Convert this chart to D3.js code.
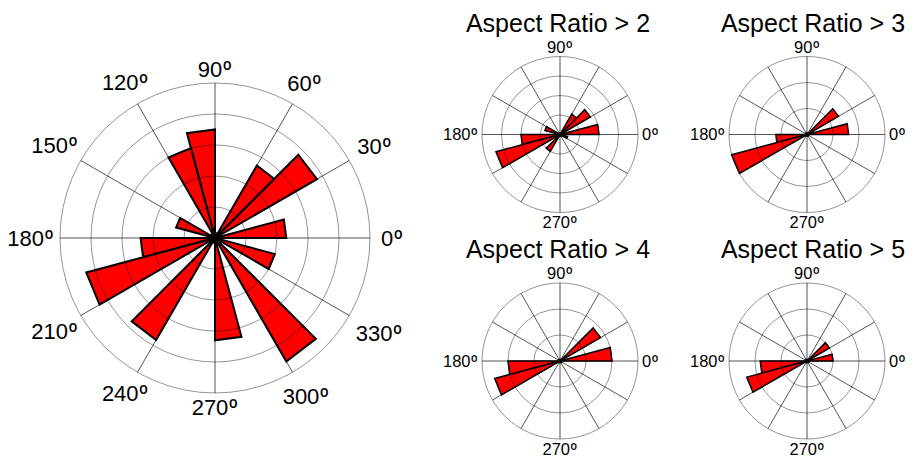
<!DOCTYPE html>
<html>
<head>
<meta charset="utf-8">
<script src="https://cdn.jsdelivr.net/npm/d3@7"></script>
<style>
  body { margin: 0; background: #fff; }
  svg { display: block; font-family: "Liberation Sans", Arial, sans-serif; }
  .deg { font-family: Roboto, "Liberation Sans", sans-serif; }
</style>
</head>
<body>
<svg id="chart" width="916" height="458"></svg>
<script>
// bin start angles (deg, counter-clockwise from east), 15 deg wide
const binStarts = [0, 15, 30, 45, 60, 75, 90, 105, 120, 135, 150, 165,
                   180, 195, 210, 225, 240, 255, 270, 285, 300, 315, 330, 345];
const binWidth = 15;

// counts per bin
const allCounts = [23, 0, 38, 27, 0, 0, 35, 30, 0, 0, 13, 0,
                   24, 43, 0, 38, 0, 0, 33, 0, 46, 0, 20, 0];
const ar2Counts = [10, 0, 9, 6, 0, 0, 0, 0, 0, 0, 4, 0,
                   10, 17, 0, 5, 0, 0, 0, 0, 0, 0, 2, 0];
const ar3Counts = [8, 0, 7, 0, 0, 0, 0, 0, 0, 0, 0, 0,
                   6, 15, 0, 0, 0, 0, 0, 0, 0, 0, 0, 0];
const ar4Counts = [10, 0, 9, 0, 0, 0, 0, 0, 0, 0, 0, 0,
                   10, 13, 0, 0, 0, 0, 0, 0, 0, 0, 0, 0];
const ar5Counts = [5, 0, 5, 0, 0, 0, 0, 0, 0, 0, 0, 0,
                   9, 12, 0, 0, 0, 0, 0, 0, 0, 0, 0, 0];

// grid
const spokeAngles = [0, 30, 60, 90, 120, 150, 180, 210, 240, 270, 300, 330];
const smallLabelAngles = [0, 90, 180, 270];
const mainRings = [10, 20, 30, 40, 50];
const ar2Rings = [5, 10, 15, 20];
const smallRings = [5, 10, 15];
const titles = ["Aspect Ratio > 2", "Aspect Ratio > 3", "Aspect Ratio > 4", "Aspect Ratio > 5"];

const svg = d3.select("#chart");
const toRad = d3.scaleLinear().domain([0, 360]).range([0, 2 * Math.PI]);

function drawRose(cx, cy, R, counts, rings, labelAngles, opt) {
  const g = svg.append("g").attr("transform", `translate(${cx},${cy})`);
  const r = d3.scaleLinear().domain([0, d3.max(rings)]).range([0, R]);

  // spokes under the bars
  g.selectAll(".spoke").data(spokeAngles).join("line")
    .attr("x1", 0).attr("y1", 0)
    .attr("x2", d => R * Math.cos(toRad(d)))
    .attr("y2", d => -R * Math.sin(toRad(d)))
    .attr("stroke", "#555").attr("stroke-width", 1);

  // wedges (straight-topped, like matlab rose)
  const wedge = d3.lineRadial()
    .angle(d => Math.PI / 2 - toRad(d[0]))
    .radius(d => r(d[1]))
    .curve(d3.curveLinearClosed);
  const bins = binStarts.map((b, i) => ({ a: b, v: counts[i] })).filter(d => d.v > 0);
  g.selectAll(".bar").data(bins).join("path")
    .attr("d", d => wedge([[d.a, 0], [d.a, d.v], [d.a + binWidth, d.v]]))
    .attr("fill", "#ff0000")
    .attr("stroke", "#000")
    .attr("stroke-width", opt.barStroke)
    .attr("stroke-linejoin", "miter");

  // rings on top
  g.selectAll(".ring").data(rings).join("circle")
    .attr("r", d => r(d))
    .attr("fill", "none")
    .attr("stroke", "rgba(0,0,0,0.42)")
    .attr("stroke-width", 1);

  g.append("circle").attr("r", opt.dot).attr("fill", "#000");

  // angle labels
  const hh = opt.fontSize * 0.36;
  g.selectAll(".lab").data(labelAngles).join("text")
    .attr("font-size", opt.fontSize)
    .attr("text-anchor", "middle")
    .attr("dy", "0.36em")
    .each(function (d) {
      const t = d3.select(this);
      t.append("tspan").text(d);
      t.append("tspan").attr("class", "deg").text("\u00BA");
      const hw = this.getComputedTextLength() / 2;
      const c = Math.cos(toRad(d)), s = Math.sin(toRad(d));
      const rr = R + opt.pad + opt.rightPad * Math.max(0, c) + hw * Math.abs(c) + hh * Math.abs(s);
      t.attr("x", rr * c).attr("y", -rr * s);
    });
  return g;
}

drawRose(215, 238, 155, allCounts, mainRings, spokeAngles,
  { fontSize: 22, pad: 6, rightPad: 5, barStroke: 2, dot: 6 });

const smallCharts = [
  { cx: 560, cy: 134.5, tx: 558, counts: ar2Counts, rings: ar2Rings },
  { cx: 807, cy: 134.5, tx: 813, counts: ar3Counts, rings: smallRings },
  { cx: 560, cy: 361, tx: 558, counts: ar4Counts, rings: smallRings },
  { cx: 807, cy: 361, tx: 813, counts: ar5Counts, rings: smallRings }
];
smallCharts.forEach((c, i) => {
  drawRose(c.cx, c.cy, 78, c.counts, c.rings, smallLabelAngles,
    { fontSize: 16.5, pad: 4, rightPad: 0, barStroke: 1.5, dot: 2.5 });
  svg.append("text")
    .attr("x", c.tx).attr("y", c.cy - 103)
    .attr("text-anchor", "middle")
    .attr("font-size", 25)
    .text(titles[i]);
});
</script>
</body>
</html>
